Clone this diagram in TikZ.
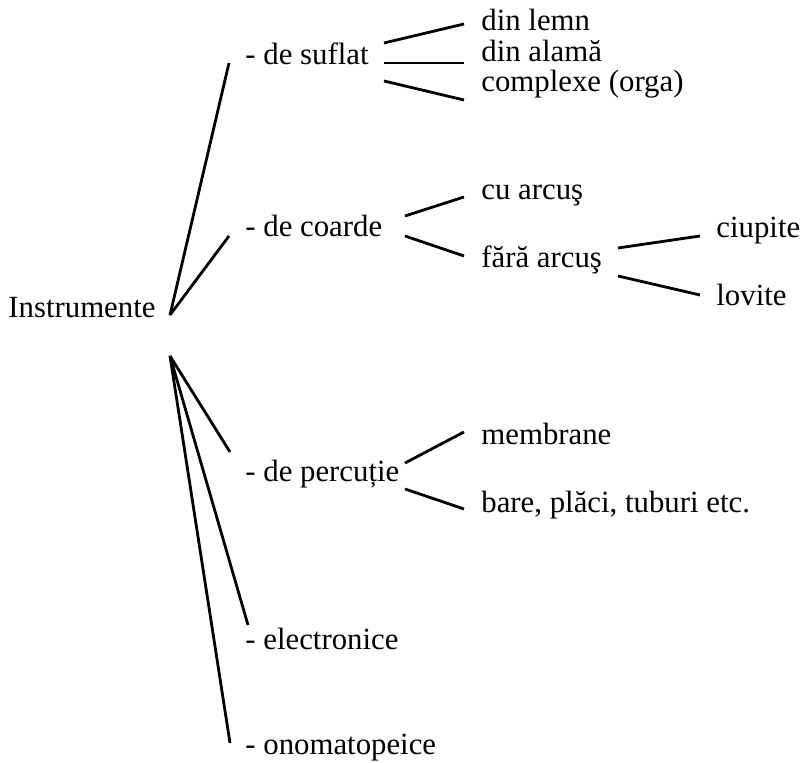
\documentclass[tikz,border=0pt]{standalone}
\usepackage{fontspec}
\setmainfont{Liberation Serif}
\tikzset{
  lbl/.style={anchor=base west, inner sep=0pt, font=\fontsize{15.4}{18}\selectfont},
  ramura/.style={line width=1.4pt}
}
\begin{document}
\begin{tikzpicture}[x=0.5pt, y=-0.5pt]
        \useasboundingbox (0,0) rectangle (800,763);
        % noduri
        \node[lbl] (instr) at (8,318) {Instrumente};
        \node[lbl] (suflat) at (245,65) {- de suflat};
        \node[lbl] (coarde) at (245,237) {- de coarde};
        \node[lbl] (percutie) at (245,482) {- de percuție};
        \node[lbl] (electronice) at (245,650) {- electronice};
        \node[lbl] (onomato) at (245,755) {- onomatopeice};
        \node[lbl] (lemn) at (481,31) {din lemn};
        \node[lbl] (alama) at (481,62) {din alamă};
        \node[lbl] (complexe) at (481,92) {complexe (orga)};
        \node[lbl] (cuarcus) at (481,200) {cu arcuş};
        \node[lbl] (fara) at (481,268) {fără arcuş};
        \node[lbl] (ciupite) at (716,238) {ciupite};
        \node[lbl] (lovite) at (716,306) {lovite};
        \node[lbl] (membrane) at (481,445) {membrane};
        \node[lbl] (bare) at (481,513) {bare, plăci, tuburi etc.};
        % ramuri din Instrumente
        \draw[ramura] ([shift={(162,-3)}]instr.base west) -- ([shift={(-16,-2)}]suflat.base west);
        \draw[ramura] ([shift={(162,-3)}]instr.base west) -- ([shift={(-16,-1)}]coarde.base west);
        \draw[ramura] ([shift={(162,38)}]instr.base west) -- ([shift={(-15,-30)}]percutie.base west);
        \draw[ramura] ([shift={(162,38)}]instr.base west) -- ([shift={(3,-25)}]electronice.base west);
        \draw[ramura] ([shift={(162,38)}]instr.base west) -- ([shift={(-15,-12)}]onomato.base west);
        % de suflat
        \draw[ramura] ([shift={(139,-22)}]suflat.base west) -- ([shift={(-17,-7)}]lemn.base west);
        \draw[ramura] ([shift={(139,-2)}]suflat.base west) -- ([shift={(-17,1)}]alama.base west);
        \draw[ramura] ([shift={(139,16)}]suflat.base west) -- ([shift={(-17,8)}]complexe.base west);
        % de coarde
        \draw[ramura] ([shift={(160,-21)}]coarde.base west) -- ([shift={(-17,-3)}]cuarcus.base west);
        \draw[ramura] ([shift={(160,-1)}]coarde.base west) -- ([shift={(-17,-12)}]fara.base west);
        \draw[ramura] ([shift={(137,-20)}]fara.base west) -- ([shift={(-16,-2)}]ciupite.base west);
        \draw[ramura] ([shift={(137,8)}]fara.base west) -- ([shift={(-16,-11)}]lovite.base west);
        % de percutie
        \draw[ramura] ([shift={(160,-19)}]percutie.base west) -- ([shift={(-17,-13)}]membrane.base west);
        \draw[ramura] ([shift={(160,7)}]percutie.base west) -- ([shift={(-17,-4)}]bare.base west);
\end{tikzpicture}
\end{document}
